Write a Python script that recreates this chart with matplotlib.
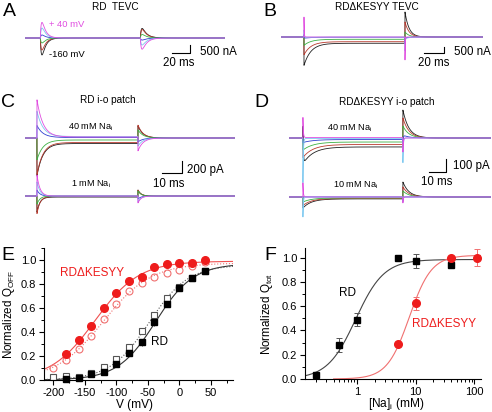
import numpy as np
import matplotlib
matplotlib.use("Agg")
import matplotlib.pyplot as plt
from matplotlib.ticker import MultipleLocator, LogLocator, NullFormatter

plt.rcParams['font.family'] = ['Liberation Sans', 'DejaVu Sans']
plt.rcParams['mathtext.fontset'] = 'custom'
plt.rcParams['mathtext.rm'] = 'Liberation Sans'
plt.rcParams['axes.unicode_minus'] = False

# ---- traces: one entry per test pulse, colours black -> magenta ----
colors = ["#202020", "#b83a2e", "#3cb043", "#2f3fd0", "#7cc8f0", "#e04ee0"]

# A  RD TEVC (nA)
A_on = [-1060, -750, -310, 190, 625, 975]
A_off = [600, 530, 220, -130, -440, -700]

# B  RDdKESYY TEVC (nA)
B_ss = [-520, -390, -190, -20, -20, 0]
B_on = [-1830, -1080, -500, -80, 0, 0]
B_off = [2075, 1245, 415, -80, -150, 0]
B_spk_on = [0, 0, 0, 300, 600, 1650]
B_spk_off = [0, 0, 0, -500, -1000, -1900]

# C  RD i-o patch (pA), 40 mM and 1 mM Na_i
C40_ss = [-92, -75, -33, 8, 25, 17]
C40_on = [-535, -535, -330, 200, 420, 620]
C40_off = [200, 215, 135, -65, -135, -215]
C1_ss = [-17, -8, 0, 0, 0, 0]
C1_on = [-250, -285, -135, 100, 235, 350]
C1_off = [100, 100, 85, -50, -100, -115]

# D  RDdKESYY i-o patch (pA), 40 mM and 10 mM Na_i
D40_ss = [-69, -50, -31, -12, -4, 4]
D40_on = [-131, -100, -62, -23, 0, 0]
D40_off = [215, 154, 92, 23, 0, 0]
D40_spk_on = [290, 0, 0, 0, -340, 154]
D40_spk_off = [0, 0, 0, -60, -190, -108]
D10_ss = [-15, -12, -8, 0, 0, 0]
D10_on = [-70, -54, -31, 0, 0, 0]
D10_off = [115, 77, 46, 0, 0, 0]
D10_spk_on = [0, 0, 0, 0, -154, 108]
D10_spk_off = [0, 0, 0, -30, -40, -46]

zeros = [0, 0, 0, 0, 0, 0]

# ---- E: Q-V ----
V = [-200, -180, -160, -140, -120, -100, -80, -60, -40, -20, 0, 20, 40]
kes_fill = [None, 0.217, 0.336, 0.447, 0.597, 0.725, 0.822, 0.861, 0.938, 0.967, 0.977, 0.972, 1.0]
kes_open = [0.10, 0.169, 0.258, 0.369, 0.508, 0.633, 0.738, 0.805, 0.861, 0.89, 0.919, 0.952, 0.98]
rd_fill = [None, 0.01, 0.02, 0.05, 0.069, 0.133, 0.225, 0.314, 0.48, 0.633, 0.763, 0.847, 0.911]
rd_open = [0.028, 0.033, 0.028, 0.055, 0.105, 0.175, 0.272, 0.405, 0.542, 0.68, 0.772, 0.85, 0.911]
kes_fill_err = [0, 0.02, 0.02, 0.03, 0.02, 0.02, 0.015, 0.02, 0.01, 0.01, 0.01, 0.01, 0.01]
rd_fill_err = [0, 0.01, 0.01, 0.01, 0.015, 0.02, 0.02, 0.03, 0.03, 0.02, 0.02, 0.015, 0.015]
# Boltzmann fits: V1/2, slope, max
fit_kes_fill = (-134, 35, 0.99)
fit_kes_open = (-121, 38, 0.975)
fit_rd_fill = (-38, 30, 0.97)
fit_rd_open = (-48, 31, 0.96)

# ---- F: Na dependence ----
na_rd = [0.2, 0.5, 1, 5, 10, 40]
q_rd = [0.033, 0.283, 0.49, 1.0, 0.972, 0.942]
q_rd_err = [0.01, 0.058, 0.055, 0.0, 0.055, 0.0]
na_kes = [5, 10, 40, 110]
q_kes = [0.289, 0.625, 1.0, 1.0]
q_kes_err = [0.02, 0.055, 0.0, 0.07]
# Hill fits: K1/2, n, max
hill_rd = (0.95, 1.8, 0.985)
hill_kes = (7.8, 2.3, 1.02)

W, H = 492, 412
fig = plt.figure(figsize=(W / 100, H / 100), dpi=100)


def box(x0, y0, x1, y1):
    return fig.add_axes([x0 / W, 1 - y1 / H, (x1 - x0) / W, (y1 - y0) / H])


def txt(x, y, s, size=8.3, **kw):
    fig.text(x / W, 1 - y / H, s, fontsize=size, ha='center', va='center', **kw)


def kin(d, tau, rise):
    y = np.exp(-d / tau)
    if rise > 0:
        y = y - np.exp(-d / rise)
        y = y / y.max()
    return y


def trace(t, on, off, ss, a_on, a_off, s_on, s_off, tau_on, tau_off, rise):
    y = np.zeros_like(t)
    p = (t >= on) & (t < off)
    d = t[p] - on
    y[p] = ss + a_on * kin(d, tau_on, rise) + s_on * np.exp(-d / 0.25)
    q = t >= off
    d = t[q] - off
    y[q] = a_off * kin(d, tau_off, rise) + s_off * np.exp(-d / 0.25)
    return y


def draw_set(ax, t, on, off, ss, a_on, a_off, s_on, s_off, tau_on, tau_off, rise=0.0, shift=0.0):
    for i in range(len(colors)):
        y = trace(t, on, off, ss[i], a_on[i], a_off[i], s_on[i], s_off[i], tau_on, tau_off, rise)
        ax.plot(t, y + shift, color=colors[i], lw=0.6)


def scalebar(ax, x, y, dx, dy):
    ax.plot([x, x + dx, x + dx], [y, y, y + dy], color='k', lw=0.8)


# A
ax = box(25, 12, 225, 72)
t = np.arange(0, 222, 0.05)
draw_set(ax, t, 17, 128, zeros, A_on, A_off, zeros, zeros, 4.0, 5.0, rise=1.0)
scalebar(ax, 163, -937, 20, 500)
ax.set_xlim(0, 222)
ax.set_ylim(-2125, 1625)
ax.axis('off')

# B
ax = box(281, 5, 483, 72)
t = np.arange(0, 202, 0.05)
draw_set(ax, t, 23, 124, B_ss, B_on, B_off, B_spk_on, B_spk_off, 7.0, 4.0)
scalebar(ax, 143, -1328, 20, 500)
ax.set_xlim(0, 202)
ax.set_ylim(-2905, 2656)
ax.axis('off')

# C
ax = box(25, 95, 235, 220)
t = np.arange(0, 105, 0.05)
draw_set(ax, t, 6, 56.5, C40_ss, C40_on, C40_off, zeros, zeros, 3.0, 2.5)
draw_set(ax, t, 6, 56.5, C1_ss, C1_on, C1_off, zeros, zeros, 1.5, 1.5, shift=-969)
scalebar(ax, 68.5, -584, 10, 200)
ax.set_xlim(0, 105)
ax.set_ylim(-1369, 718)
ax.axis('off')

# D
ax = box(289, 95, 491, 222)
t = np.arange(0, 118.8, 0.05)
draw_set(ax, t, 8.2, 67, D40_ss, D40_on, D40_off, D40_spk_on, D40_spk_off, 6.0, 3.5)
draw_set(ax, t, 8.2, 67, D10_ss, D10_on, D10_off, D10_spk_on, D10_spk_off, 5.0, 3.5, shift=-454)
scalebar(ax, 82.4, -262, 10, 100)
ax.set_xlim(0, 118.8)
ax.set_ylim(-647, 331)
ax.axis('off')

# trace panel texts
for s, x, y in [("A", 9, 11.5), ("B", 269.5, 11.5), ("C", 7.5, 102.5),
                ("D", 261, 102.5), ("E", 7.5, 255), ("F", 270, 255)]:
    txt(x, y, s, size=14)
txt(115, 7.5, "RD  TEVC", size=7.2)
txt(377, 7.5, "RD\u0394KESYY TEVC", size=7.2)
txt(66.7, 24.3, "+ 40 mV", size=6.8, color="#e04ee0")
txt(67, 54.3, "-160 mV", size=6.8)
txt(218.7, 51.7, "500 nA")
txt(179, 63.3, "20 ms")
txt(472.7, 51.7, "500 nA")
txt(433.8, 63.3, "20 ms")
txt(108.3, 100, "RD i-o patch", size=7.2)
txt(91, 127.3, "40 mM Na$_\\mathregular{i}$", size=6.6)
txt(90.8, 184, "1 mM Na$_\\mathregular{i}$", size=6.6)
txt(205.8, 170, "200 pA")
txt(169, 184.3, "10 ms")
txt(386.3, 101.7, "RD\u0394KESYY i-o patch", size=7.2)
txt(350, 128.3, "40 mM Na$_\\mathregular{i}$", size=6.6)
txt(356, 185, "10 mM Na$_\\mathregular{i}$", size=6.6)
txt(471.8, 165.7, "100 pA")
txt(436.8, 181.7, "10 ms")


def style(ax):
    for s in ['top', 'right']:
        ax.spines[s].set_visible(False)
    for s in ['left', 'bottom']:
        ax.spines[s].set_linewidth(0.8)
    ax.tick_params(which='major', direction='out', length=3.5, width=0.8, labelsize=8, pad=2)
    ax.tick_params(which='minor', direction='out', length=2, width=0.7)


red = "#ee1c1c"
pink = "#f07070"

# E
ax = box(44, 248, 233, 380)
vv = np.linspace(-215, 85, 300)
for (vh, k, top), c, ls in [(fit_kes_fill, "#f05050", '-'), (fit_kes_open, pink, ':'),
                             (fit_rd_fill, "#333333", '-'), (fit_rd_open, "#555555", ':')]:
    ax.plot(vv, top / (1 + np.exp((vh - vv) / k)), color=c, ls=ls, lw=0.8)


def pts(vals):
    x = [v for v, q in zip(V, vals) if q is not None]
    y = [q for q in vals if q is not None]
    return x, y


x, y = pts(kes_open)
ax.plot(x, y, 'o', ms=5, mfc='none', mec=pink, mew=0.8, clip_on=False)
x, y = pts(rd_open)
ax.plot(x, y, 's', ms=4.5, mfc='white', mec="#555555", mew=0.8, clip_on=False)
x, y = pts(kes_fill)
e = [er for er, q in zip(kes_fill_err, kes_fill) if q is not None]
ax.errorbar(x, y, yerr=e, fmt='o', ms=5.5, color=red, ecolor=red, elinewidth=0.7, clip_on=False)
x, y = pts(rd_fill)
e = [er for er, q in zip(rd_fill_err, rd_fill) if q is not None]
ax.errorbar(x, y, yerr=e, fmt='s', ms=4.5, color='black', ecolor='#444444', elinewidth=0.7, clip_on=False)
ax.set_xlim(-215, 85)
ax.set_ylim(0, 1.1)
ax.xaxis.set_major_locator(MultipleLocator(50))
ax.xaxis.set_minor_locator(MultipleLocator(25))
ax.set_yticks([0, 0.2, 0.4, 0.6, 0.8, 1.0])
ax.yaxis.set_minor_locator(MultipleLocator(0.1))
style(ax)
ax.set_xlabel("V (mV)", fontsize=8.6)
ax.xaxis.set_label_coords(0.48, -0.145)
ax.set_ylabel("Normalized Q$_\\mathregular{OFF}$", fontsize=8.4)
ax.yaxis.set_label_coords(-0.145, 0.5)
txt(92.5, 273.3, "RD\u0394KESYY", size=8.5, color=red)
txt(159, 341.7, "RD", size=8.5)

# F
ax = box(305, 248, 481, 379)
ax.set_xscale('log')
xx = np.logspace(np.log10(0.13), np.log10(130), 300)
K, n, top = hill_rd
ax.plot(xx, top / (1 + (K / xx) ** n), color="#444444", lw=0.8)
xk = np.logspace(np.log10(0.4), np.log10(130), 300)
K, n, top = hill_kes
ax.plot(xk, top / (1 + (K / xk) ** n), color=pink, lw=0.8)
ax.errorbar(na_rd, q_rd, yerr=q_rd_err, fmt='s', ms=4.5, color='black', ecolor='#555555',
            elinewidth=0.7, capsize=2, capthick=0.7, clip_on=False)
ax.errorbar(na_kes, q_kes, yerr=q_kes_err, fmt='o', ms=5.5, color=red, ecolor=pink,
            elinewidth=0.7, capsize=2, capthick=0.7, clip_on=False)
ax.set_xlim(0.13, 130)
ax.set_ylim(0, 1.08)
ax.set_xticks([1, 10, 100])
ax.set_xticklabels(['1', '10', '100'])
ax.xaxis.set_minor_locator(LogLocator(base=10, subs=np.arange(2, 10)))
ax.xaxis.set_minor_formatter(NullFormatter())
ax.set_yticks([0, 0.2, 0.4, 0.6, 0.8, 1.0])
ax.yaxis.set_minor_locator(MultipleLocator(0.1))
style(ax)
ax.set_xlabel("[Na]$_\\mathregular{i}$ (mM)", fontsize=8.6)
ax.xaxis.set_label_coords(0.517, -0.13)
ax.set_ylabel("Normalized Q$_\\mathregular{tot}$", fontsize=8.4)
ax.yaxis.set_label_coords(-0.17, 0.5)
txt(347.7, 293.3, "RD", size=8.5)
txt(444.3, 324, "RD\u0394KESYY", size=8.5, color=red)

fig.savefig("out.png", dpi=100)
